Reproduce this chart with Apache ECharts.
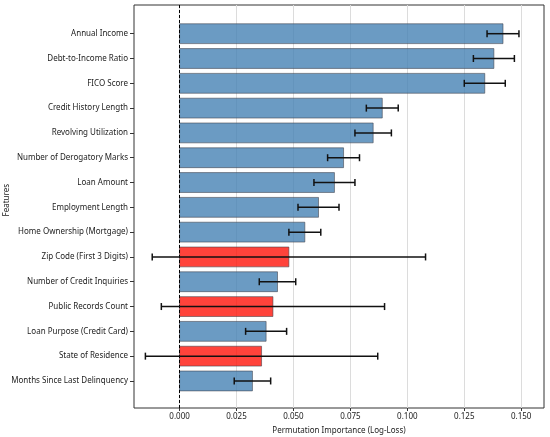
<!DOCTYPE html>
<html><head><meta charset="utf-8">
<script src="https://cdn.jsdelivr.net/npm/echarts@6/dist/echarts.min.js"></script>
<style>html,body{margin:0;padding:0;background:#fff}#c{width:550px;height:437px}</style>
</head><body><div id="c"></div>
<script>
const features = ["Annual Income","Debt-to-Income Ratio","FICO Score","Credit History Length","Revolving Utilization","Number of Derogatory Marks","Loan Amount","Employment Length","Home Ownership (Mortgage)","Zip Code (First 3 Digits)","Number of Credit Inquiries","Public Records Count","Loan Purpose (Credit Card)","State of Residence","Months Since Last Delinquency"];
const importance = [0.142,0.138,0.134,0.089,0.085,0.072,0.068,0.061,0.055,0.048,0.043,0.041,0.038,0.036,0.032];
const errors = [0.007,0.009,0.009,0.007,0.008,0.007,0.009,0.009,0.007,0.060,0.008,0.049,0.009,0.051,0.008];
const flagged = [false,false,false,false,false,false,false,false,false,true,false,true,false,true,false];
const xTicks = [0,0.025,0.05,0.075,0.1,0.125,0.15];
const rowTicks = features.map((f,i)=>i);

const FONT = "Noto Sans";
const FS = 8;
const chart = echarts.init(document.getElementById('c'));
const rows = importance.map((v,i)=>[v,i,errors[i],flagged[i]?1:0]);
chart.setOption({
  animation:false,
  grid:{left:134,right:6,top:5,bottom:29,show:true,borderColor:'#333',borderWidth:1,backgroundColor:'transparent',
        containLabel:false,outerBoundsMode:'none'},
  xAxis:{type:'value',min:-0.02,max:0.16,
     name:'Permutation Importance (Log-Loss)',nameLocation:'middle',nameGap:19,
     nameTextStyle:{fontFamily:FONT,fontSize:FS,color:'#222'},
     axisLine:{show:false,onZero:false},
     axisTick:{show:true,length:3,customValues:xTicks,lineStyle:{color:'#333'}},
     axisLabel:{customValues:xTicks,fontFamily:FONT,fontSize:FS,color:'#222',margin:5,formatter:v=>v.toFixed(3)},
     splitLine:{show:true,lineStyle:{color:'#dcdcdc',width:1}}},
  yAxis:{type:'value',min:-1.157,max:15.09,inverse:true,
     axisLine:{show:false,onZero:false},
     axisTick:{show:true,length:4,customValues:rowTicks,lineStyle:{color:'#333'}},
     axisLabel:{customValues:rowTicks,fontFamily:FONT,fontSize:FS,color:'#222',margin:6,
       formatter:v=>features[Math.round(v)]},
     splitLine:{show:false}},
  graphic:[{type:'text',left:3,top:184,rotation:Math.PI/2,
    style:{text:'Features',fontFamily:FONT,fontSize:FS,fill:'#222'}}],
  series:[
    {type:'custom',data:rows,z:2,
     renderItem:function(params,api){
       const v=api.value(0), idx=api.value(1), red=api.value(3);
       const p0=api.coord([0,idx]), p1=api.coord([v,idx]);
       const h=api.size([0,0.8])[1];
       return {type:'rect',shape:{x:p0[0],y:p0[1]-h/2,width:p1[0]-p0[0],height:h},
         style:{fill: red ? 'rgba(255,20,10,0.8)' : 'rgba(70,130,180,0.8)',
                stroke:'rgba(60,60,70,0.55)',lineWidth:1}};
     },
     markLine:{symbol:'none',silent:true,label:{show:false},
       lineStyle:{color:'#000',type:[3,2],width:1},data:[{xAxis:0}]}},
    {type:'custom',data:rows,z:10,
     renderItem:function(params,api){
       const v=api.value(0), idx=api.value(1), e=api.value(2);
       const a=api.coord([v-e,idx]), b=api.coord([v+e,idx]);
       const h=3.5;
       const st={stroke:'#111',lineWidth:1.5};
       return {type:'group',children:[
         {type:'line',shape:{x1:a[0],y1:a[1],x2:b[0],y2:b[1]},style:st},
         {type:'line',shape:{x1:a[0],y1:a[1]-h,x2:a[0],y2:a[1]+h},style:st},
         {type:'line',shape:{x1:b[0],y1:b[1]-h,x2:b[0],y2:b[1]+h},style:st}
       ]};
     }}
  ]
});
</script></body></html>
